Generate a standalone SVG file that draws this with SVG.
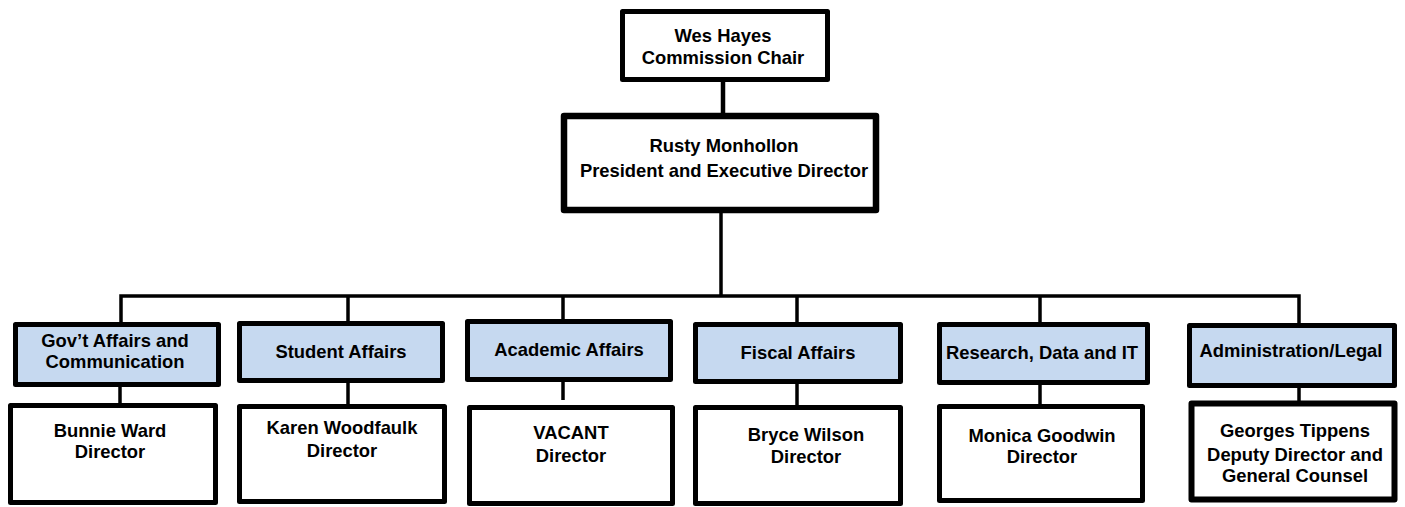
<svg xmlns="http://www.w3.org/2000/svg" width="1405" height="507" viewBox="0 0 1405 507">
<style>
.box{fill:#fff;stroke:#000;stroke-width:5;stroke-linejoin:round}
.dept{fill:#C6D9F0;stroke:#000;stroke-width:5;stroke-linejoin:round}
.pres{stroke-width:6.5}
.ln{stroke:#000;stroke-width:3.5;fill:none}
text{font-family:"Liberation Sans",Arial,sans-serif;font-weight:bold;font-size:18.4px;fill:#000;text-anchor:middle}
</style>
<rect width="1405" height="507" fill="#fff"/>
<g id="connectors">
<line class="ln" x1="723" y1="81" x2="723" y2="116" style="stroke-width:4.5"/>
<line class="ln" x1="721" y1="210" x2="721" y2="296"/>
<polyline class="ln" points="121,322 121,296 1299,296 1299,323"/>
<line class="ln" x1="348" y1="296" x2="348" y2="321"/>
<line class="ln" x1="563" y1="296" x2="563" y2="319"/>
<line class="ln" x1="797" y1="296" x2="797" y2="322"/>
<line class="ln" x1="1040" y1="296" x2="1040" y2="322"/>
<line class="ln" x1="120" y1="387" x2="120" y2="403"/>
<line class="ln" x1="348" y1="383" x2="348" y2="404"/>
<line class="ln" x1="563" y1="382" x2="563" y2="400"/>
<line class="ln" x1="797" y1="384" x2="797" y2="405"/>
<line class="ln" x1="1040" y1="385" x2="1040" y2="404"/>
<line class="ln" x1="1299" y1="388" x2="1299" y2="401"/>
</g>
<g id="chair">
<rect class="box" x="622.5" y="11.5" width="205" height="68"/>
<text x="723" y="42">Wes Hayes</text>
<text x="723" y="64">Commission Chair</text>
</g>
<g id="president">
<rect class="box pres" x="564" y="116" width="312" height="94"/>
<text x="724" y="152">Rusty Monhollon</text>
<text x="724" y="177">President and Executive Director</text>
</g>
<g id="dept-gov">
<rect class="dept" x="15.5" y="324.5" width="203" height="60"/>
<text x="115" y="347">Gov’t Affairs and</text>
<text x="115" y="368">Communication</text>
</g>
<g id="dept-student">
<rect class="dept" x="239.5" y="323.5" width="203" height="57"/>
<text x="341" y="358">Student Affairs</text>
</g>
<g id="dept-academic">
<rect class="dept" x="467.5" y="321.5" width="203" height="58"/>
<text x="569" y="356">Academic Affairs</text>
</g>
<g id="dept-fiscal">
<rect class="dept" x="695.5" y="324.5" width="205" height="57"/>
<text x="798" y="359">Fiscal Affairs</text>
</g>
<g id="dept-research">
<rect class="dept" x="939.5" y="324.5" width="208" height="58"/>
<text x="1042" y="359">Research, Data and IT</text>
</g>
<g id="dept-admin">
<rect class="dept" x="1189.5" y="325.5" width="205" height="60"/>
<text x="1291" y="357">Administration/Legal</text>
</g>
<g id="dir-gov">
<rect class="box" x="10.5" y="405.5" width="205" height="97"/>
<text x="110" y="437">Bunnie Ward</text>
<text x="110" y="458">Director</text>
</g>
<g id="dir-student">
<rect class="box" x="239.5" y="406.5" width="205" height="95"/>
<text x="342" y="434">Karen Woodfaulk</text>
<text x="342" y="457">Director</text>
</g>
<g id="dir-academic">
<rect class="box" x="469.5" y="407.5" width="203" height="96"/>
<text x="571" y="439">VACANT</text>
<text x="571" y="462">Director</text>
</g>
<g id="dir-fiscal">
<rect class="box" x="695.5" y="407.5" width="205" height="96"/>
<text x="806" y="441">Bryce Wilson</text>
<text x="806" y="463">Director</text>
</g>
<g id="dir-research">
<rect class="box" x="939.5" y="406.5" width="203" height="94"/>
<text x="1042" y="442">Monica Goodwin</text>
<text x="1042" y="463">Director</text>
</g>
<g id="dir-admin">
<rect class="box" x="1191.5" y="403.5" width="203" height="96" style="stroke-width:6"/>
<text x="1295" y="437">Georges Tippens</text>
<text x="1295" y="461">Deputy Director and</text>
<text x="1295" y="482">General Counsel</text>
</g>
</svg>
